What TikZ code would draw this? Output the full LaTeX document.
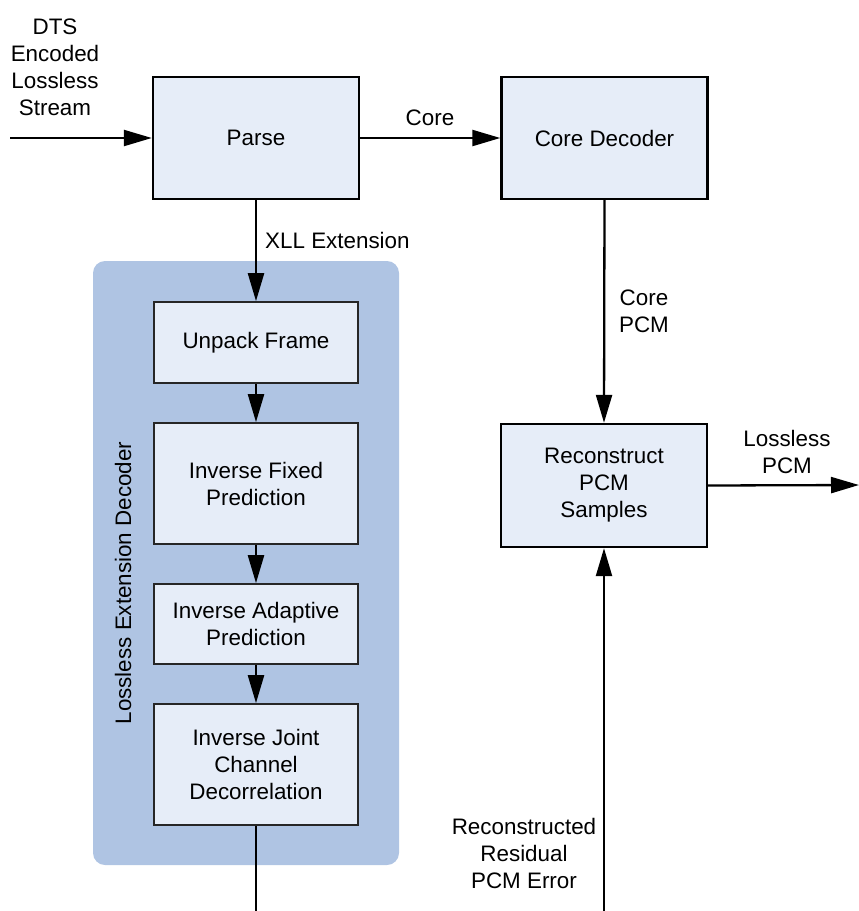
\documentclass[tikz,border=0pt]{standalone}
\usepackage{fontspec}
\setmainfont{Liberation Sans}
\usetikzlibrary{arrows.meta}
\definecolor{boxfill}{HTML}{E6EDF8}
\definecolor{panelfill}{HTML}{AFC4E3}
\begin{document}
\begin{tikzpicture}[x=1pt,y=-1pt,
  every node/.style={font=\fontsize{22.4}{27}\selectfont, inner sep=0pt},
  blk/.style={draw=black, fill=boxfill, line width=2.4pt, minimum width=206pt, align=center},
  iblk/.style={draw=black!85, fill=boxfill, line width=1.7pt, minimum width=204pt, align=center},
  lbl/.style={align=center},
  conn/.style={line width=2.3pt, -{Triangle[length=28pt,width=16pt]}},
  plain/.style={line width=2.3pt}]
\useasboundingbox (0,0) rectangle (859,911);
% panel
\fill[panelfill, rounded corners=12pt] (93,261) rectangle (399,865);
\node[rotate=90] (paneltitle) at (123,583) {Lossless Extension Decoder};
% blocks
\node[blk, minimum height=122pt] (parse) at (256,138) {Parse};
\node[blk, minimum height=122pt] (core) at (604.5,138) {Core Decoder};
\node[blk, minimum height=123pt] (recon) at (604,485.5) {Reconstruct\\PCM\\Samples};
\node[iblk, minimum height=81pt] (unpack) at (256,342.5) {Unpack Frame};
\node[iblk, minimum height=121pt] (fixed) at (256,483.5) {Inverse Fixed\\Prediction};
\node[iblk, minimum height=80pt] (adapt) at (256,624) {Inverse Adaptive\\Prediction};
\node[iblk, minimum height=121pt] (joint) at (256,764.5) {Inverse Joint\\Channel\\Decorrelation};
% free ends
\coordinate (inl) at (10,138);
\coordinate (outr) at (859,485);
\coordinate (botl) at (256,911);
\coordinate (botr) at (604,911);
% connectors
\draw[conn] (inl) -- (parse.west);
\draw[conn] (parse.east) -- (core.west);
\draw[conn] (parse.south) -- (unpack.north);
\draw[conn] (unpack.south) -- (fixed.north);
\draw[conn] (fixed.south) -- (adapt.north);
\draw[conn] (adapt.south) -- (joint.north);
\draw[plain] (joint.south) -- (botl);
\draw[conn] (core.south) -- (recon.north);
\draw[conn] (botr) -- (recon.south);
\draw[conn] (recon.east) -- (outr);
% labels
\node[lbl] (tin) at (55,67.5) {DTS\\Encoded\\Lossless\\Stream};
\node[lbl, anchor=west] (txll) at (265,240) {XLL Extension};
\node[lbl] (tcore) at (430,118) {Core};
\node[lbl] (tcpcm) at (644,311) {Core\\PCM};
\node[lbl] (tlpcm) at (787,452) {Lossless\\PCM};
\node[lbl] (tres) at (524,853) {Reconstructed\\Residual\\PCM Error};
\end{tikzpicture}
\end{document}
